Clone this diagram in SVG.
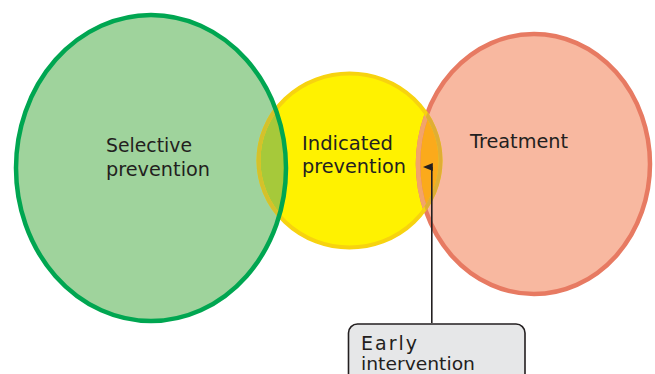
<svg xmlns="http://www.w3.org/2000/svg" width="655" height="374" viewBox="0 0 655 374">
<style>
.lbl{font-family:"DejaVu Sans","Liberation Sans",Arial,sans-serif;font-size:19px;fill:#231f20;}
.sm{font-size:18.5px;}
</style>
<defs>
<ellipse id="eG" cx="151" cy="168" rx="135" ry="153"/>
<ellipse id="eY" cx="349.5" cy="160.5" rx="91" ry="87"/>
<ellipse id="eR" cx="534" cy="164" rx="116" ry="130"/>
<clipPath id="cG"><use href="#eG"/></clipPath>
<clipPath id="cY"><use href="#eY"/></clipPath>
<clipPath id="cR"><use href="#eR"/></clipPath>
<marker id="ah" markerWidth="9" markerHeight="10" refX="4.5" refY="9" orient="auto" markerUnits="userSpaceOnUse" viewBox="0 0 9 10">
<path d="M4.5,0 L8.5,10 L0.5,10 Z" fill="#231f20"/>
</marker>
</defs>
<rect width="655" height="374" fill="#ffffff"/>
<g id="selective">
<use href="#eG" fill="#9fd39c"/>
</g>
<g id="indicated">
<use href="#eY" fill="#fff200"/>
</g>
<g id="treatment">
<use href="#eR" fill="#f8b8a0"/>
</g>
<g id="overlaps">
<g clip-path="url(#cG)"><use href="#eY" fill="#a6c93a"/></g>
<g clip-path="url(#cR)"><use href="#eY" fill="#fbaa1b"/></g>
</g>
<g id="outlines">
<use href="#eR" fill="none" stroke="#e77a62" stroke-width="4.5"/>
<g clip-path="url(#cY)"><use href="#eR" fill="none" stroke="#f2a46a" stroke-width="4.5"/></g>
<use href="#eY" fill="none" stroke="#f7d30f" stroke-width="4"/>
<g clip-path="url(#cG)"><use href="#eY" fill="none" stroke="#d4c12c" stroke-width="4"/></g>
<g clip-path="url(#cR)"><use href="#eY" fill="none" stroke="#dfae34" stroke-width="4"/></g>
<use href="#eG" fill="none" stroke="#00a651" stroke-width="4.5"/>
</g>
<g id="labels">
<text class="lbl" x="106" y="152" textLength="86" lengthAdjust="spacingAndGlyphs">Selective</text>
<text class="lbl" x="106" y="176" textLength="104" lengthAdjust="spacingAndGlyphs">prevention</text>
<text class="lbl" x="302" y="150" textLength="91" lengthAdjust="spacingAndGlyphs">Indicated</text>
<text class="lbl" x="302" y="173" textLength="104" lengthAdjust="spacingAndGlyphs">prevention</text>
<text class="lbl" x="470" y="148" textLength="98" lengthAdjust="spacingAndGlyphs">Treatment</text>
</g>
<g id="connectors">
<line x1="431.8" y1="323" x2="431.8" y2="167" stroke="#231f20" stroke-width="1.6" marker-end="url(#ah)"/>
</g>
<g id="early-intervention">
<rect x="348.5" y="324" width="176.5" height="70" rx="9" ry="9" fill="#e6e7e8" stroke="#231f20" stroke-width="1.6"/>
<text class="lbl" x="361" y="350" textLength="56" lengthAdjust="spacing">Early</text>
<text class="lbl sm" x="361" y="370" textLength="114" lengthAdjust="spacingAndGlyphs">intervention</text>
</g>
</svg>
